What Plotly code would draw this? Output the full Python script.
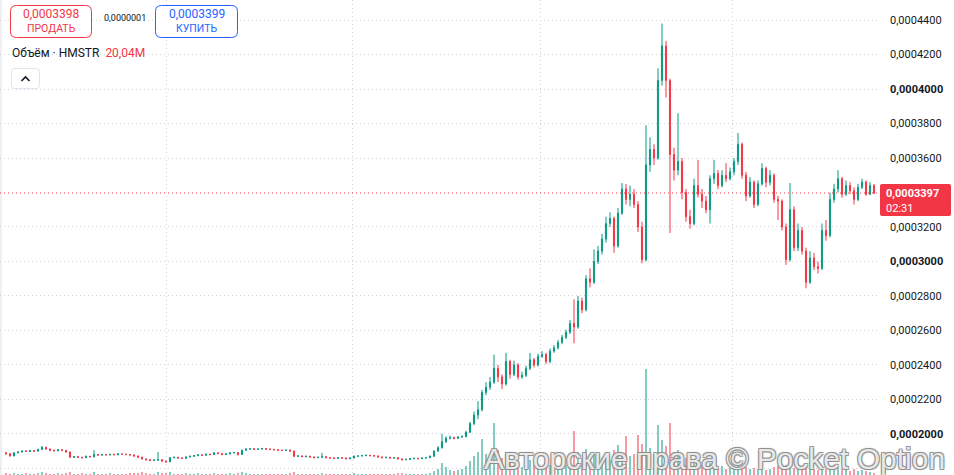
import plotly.graph_objects as go

# ---------------- data (prices in units of 1e-7) ----------------
UNIT = 1e-7
first_open = 1890

closes = [
    1885, 1872, 1890, 1895, 1900, 1898, 1903, 1900, 1910, 1922,
    1912, 1905, 1902, 1908, 1904, 1895, 1865, 1868, 1864, 1862,
    1870, 1867, 1880, 1877, 1880, 1878, 1881, 1879, 1884, 1882,
    1880, 1878, 1872, 1865, 1855, 1850, 1846, 1848, 1850, 1842,
    1838, 1862, 1864, 1860, 1858, 1866, 1870, 1874, 1878, 1876,
    1882, 1880, 1890, 1886, 1880, 1884, 1890, 1892, 1880, 1905,
    1912, 1914, 1910, 1912, 1915, 1912, 1910, 1908, 1905, 1904,
    1906, 1900, 1870, 1872, 1868, 1870, 1866, 1862, 1864, 1868,
    1862, 1860, 1858, 1862, 1860, 1856, 1860, 1870, 1872, 1874,
    1876, 1874, 1872, 1866, 1862, 1864, 1860, 1862, 1855, 1850,
    1852, 1856, 1858, 1856, 1860, 1862, 1870, 1900, 1920, 1955,
    1975, 1978, 1975, 1982, 1985, 2010, 2060, 2110, 2140, 2240,
    2270, 2300, 2380, 2330, 2290, 2420, 2345, 2400, 2330, 2340,
    2380, 2430, 2400, 2450, 2460, 2420, 2480, 2500, 2530, 2560,
    2590, 2640, 2620, 2770, 2720, 2900, 2880, 3000, 3060, 3130,
    3220, 3250, 3090, 3280, 3420, 3360, 3390, 3330, 3200, 3010,
    3560, 3650, 3600, 4050, 4250, 4050, 3620, 3530, 3580, 3400,
    3260, 3220, 3440, 3390, 3350, 3300, 3480, 3510, 3440, 3500,
    3480, 3520, 3580, 3680, 3500, 3380, 3460, 3330, 3450, 3540,
    3460, 3500, 3360, 3350, 3200, 3010, 3300, 3080, 3180, 3060,
    2880, 3020, 2970, 2960, 3180, 3150, 3360, 3420, 3480, 3390,
    3440, 3410, 3360, 3430, 3460, 3390, 3440, 3397,
]

highs = [
    1895, 1888, 1893, 1899, 1904, 1905, 1907, 1906, 1914, 1930,
    1925, 1915, 1908, 1912, 1911, 1907, 1897, 1872, 1870, 1867,
    1874, 1872, 1905, 1884, 1884, 1883, 1885, 1884, 1888, 1887,
    1885, 1883, 1880, 1874, 1867, 1858, 1853, 1852, 1895, 1852,
    1845, 1866, 1868, 1867, 1864, 1870, 1874, 1877, 1882, 1881,
    1886, 1885, 1894, 1893, 1889, 1888, 1893, 1896, 1894, 1909,
    1916, 1918, 1917, 1916, 1919, 1918, 1915, 1913, 1910, 1908,
    1910, 1909, 1903, 1876, 1875, 1874, 1873, 1869, 1868, 1890,
    1871, 1865, 1863, 1866, 1865, 1863, 1864, 1874, 1876, 1878,
    1880, 1879, 1877, 1875, 1869, 1868, 1867, 1866, 1865, 1858,
    1856, 1860, 1862, 1861, 1864, 1866, 1875, 1905, 1928, 2000,
    1985, 1990, 1984, 1988, 1992, 2018, 2070, 2130, 2190, 2255,
    2300, 2330, 2460, 2400, 2345, 2470, 2430, 2425, 2410, 2360,
    2395, 2470, 2440, 2465, 2480, 2470, 2495, 2515, 2545, 2575,
    2605, 2660, 2780, 2800, 2790, 2920, 2960, 3070, 3090, 3160,
    3260, 3285, 3260, 3310, 3455, 3450, 3440, 3420, 3350, 3230,
    3790, 3720, 3680, 4120, 4380, 4280, 4060, 3660, 3860, 3600,
    3420, 3300, 3480, 3590, 3420, 3380, 3500, 3590, 3530, 3530,
    3570, 3545, 3600, 3745, 3690, 3520, 3490, 3470, 3470, 3570,
    3550, 3530, 3510, 3380, 3360, 3220, 3455, 3320, 3220, 3200,
    3080, 3060, 3050, 3000, 3220, 3240, 3400, 3450, 3530, 3490,
    3470, 3460, 3430, 3450, 3480, 3470, 3460, 3450,
]

lows = [
    1880, 1868, 1870, 1887, 1892, 1894, 1895, 1896, 1898, 1908,
    1908, 1900, 1898, 1899, 1900, 1890, 1860, 1861, 1860, 1857,
    1859, 1863, 1864, 1873, 1874, 1875, 1875, 1876, 1876, 1878,
    1877, 1874, 1868, 1861, 1851, 1846, 1842, 1843, 1845, 1838,
    1833, 1836, 1858, 1856, 1854, 1855, 1863, 1867, 1871, 1872,
    1873, 1876, 1877, 1882, 1876, 1877, 1881, 1886, 1875, 1878,
    1902, 1909, 1906, 1907, 1909, 1908, 1906, 1904, 1901, 1900,
    1901, 1896, 1865, 1866, 1864, 1865, 1862, 1858, 1859, 1861,
    1858, 1856, 1854, 1855, 1856, 1852, 1853, 1857, 1867, 1869,
    1871, 1870, 1868, 1862, 1858, 1859, 1856, 1857, 1851, 1846,
    1847, 1849, 1853, 1852, 1853, 1857, 1859, 1868, 1896, 1915,
    1948, 1968, 1968, 1970, 1977, 1980, 2005, 2050, 2085, 2130,
    2225, 2255, 2290, 2300, 2260, 2280, 2320, 2335, 2315, 2320,
    2330, 2370, 2385, 2390, 2440, 2405, 2410, 2470, 2490, 2520,
    2550, 2580, 2525, 2610, 2700, 2710, 2850, 2870, 2985, 3040,
    3110, 3200, 3050, 3080, 3270, 3330, 3320, 3310, 3170, 2990,
    3000, 3520, 3560, 3590, 4020, 3950, 3165, 3470, 3500, 3360,
    3230, 3190, 3210, 3370, 3310, 3280, 3220, 3450, 3420, 3430,
    3460, 3470, 3500, 3560, 3480, 3350, 3370, 3310, 3320, 3440,
    3430, 3440, 3340, 3240, 3180, 2980, 3000, 3060, 3060, 3040,
    2845, 2870, 2950, 2930, 2950, 3120, 3140, 3340, 3400, 3370,
    3380, 3390, 3330, 3350, 3420, 3380, 3385, 3390,
]

volumes = [
    2, 1, 2, 1, 1, 2, 1, 1, 2, 3,
    2, 1, 1, 2, 1, 2, 3, 1, 1, 2,
    1, 1, 3, 1, 1, 1, 2, 1, 1, 1,
    1, 2, 2, 2, 3, 2, 1, 1, 3, 2,
    2, 3, 1, 1, 1, 2, 1, 1, 2, 1,
    1, 1, 2, 1, 1, 1, 2, 1, 2, 3,
    2, 1, 1, 1, 1, 1, 1, 1, 1, 1,
    1, 2, 3, 1, 1, 1, 1, 1, 1, 2,
    1, 1, 1, 1, 1, 1, 1, 2, 1, 1,
    1, 1, 1, 1, 1, 1, 1, 1, 2, 2,
    1, 1, 1, 1, 1, 1, 2, 4, 6, 12,
    8, 5, 4, 5, 6, 9, 14, 18, 22, 35,
    20, 18, 50, 24, 16, 22, 14, 10, 12, 8,
    9, 15, 10, 11, 8, 9, 10, 8, 9, 12,
    10, 14, 43, 22, 16, 25, 18, 20, 14, 16,
    20, 15, 24, 29, 22, 38, 18, 20, 39, 30,
    103, 26, 20, 48, 34, 28, 50, 22, 24, 18,
    16, 14, 15, 12, 10, 9, 12, 8, 7, 9,
    6, 7, 8, 10, 9, 8, 6, 7, 6, 7,
    5, 6, 8, 9, 8, 10, 9, 7, 6, 8,
    9, 7, 6, 5, 8, 6, 9, 10, 7, 6,
    5, 4, 6, 4, 5, 4, 3, 2,
]

price_tick_values = [1800, 2000, 2200, 2400, 2600, 2800, 3000, 3200, 3600, 3800, 4000, 4200, 4400]
price_tick_labels = [
    "0,0001800", "<b>0,0002000</b>", "0,0002200", "0,0002400", "0,0002600", "0,0002800",
    "<b>0,0003000</b>", "0,0003200", "0,0003600", "0,0003800", "<b>0,0004000</b>",
    "0,0004200", "0,0004400",
]
time_grid_positions = [40, 86.5, 133.5, 181.5]

last_price = 3397
last_price_label = "0,0003397"
countdown_label = "02:31"
sell_price_label = "0,0003398"
buy_price_label = "0,0003399"
spread_label = "0,0000001"
volume_title = "Объём · HMSTR"
volume_value_label = "20,04M"
watermark_text = "Авторские права © Pocket Option"

# ---------------- derived ----------------
n = len(closes)
idx = list(range(n))
opens = [first_open] + closes[:-1]

UP = "#089981"
DOWN = "#f23645"
vol_colors = ["rgba(8,153,129,0.5)" if c >= o else "rgba(242,54,69,0.5)" for o, c in zip(opens, closes)]

W, H = 954, 475
PLOT_W = 880
GRID = "#d1d4dc"


def px(x):
    return x / PLOT_W


def py(y):
    return 1 - y / H


def rrect(x0, y0, x1, y1, r):
    pts = [
        ("M", [(x0 + r, y0)]), ("L", [(x1 - r, y0)]), ("Q", [(x1, y0), (x1, y0 + r)]),
        ("L", [(x1, y1 - r)]), ("Q", [(x1, y1), (x1 - r, y1)]), ("L", [(x0 + r, y1)]),
        ("Q", [(x0, y1), (x0, y1 - r)]), ("L", [(x0, y0 + r)]), ("Q", [(x0, y0), (x0 + r, y0)]),
    ]
    s = ""
    for cmd, ps in pts:
        s += cmd + " " + " ".join(f"{px(a):.5f},{py(b):.5f}" for a, b in ps) + " "
    return s + "Z"


fig = go.Figure()

fig.add_trace(go.Bar(
    x=idx, y=volumes, marker=dict(color=vol_colors, line=dict(width=0)),
    width=0.35, yaxis="y2", hoverinfo="skip", showlegend=False,
))

fig.add_trace(go.Candlestick(
    x=idx,
    open=[v * UNIT for v in opens],
    high=[v * UNIT for v in highs],
    low=[v * UNIT for v in lows],
    close=[v * UNIT for v in closes],
    increasing=dict(line=dict(color=UP, width=1), fillcolor=UP),
    decreasing=dict(line=dict(color=DOWN, width=1), fillcolor=DOWN),
    whiskerwidth=0,
    hoverinfo="skip", showlegend=False,
))

shapes = []
# last price dotted line
shapes.append(dict(type="line", xref="paper", yref="y", x0=0, x1=1,
                   y0=last_price * UNIT, y1=last_price * UNIT,
                   line=dict(color=DOWN, width=1, dash="1px,3px")))
# price label box
shapes.append(dict(type="path", xref="paper", yref="paper",
                   path=rrect(880, 184, 951, 216, 2),
                   fillcolor=DOWN, line=dict(width=0)))
# sell / buy buttons
shapes.append(dict(type="path", xref="paper", yref="paper",
                   path=rrect(10.5, 5.5, 91.5, 37.5, 6),
                   fillcolor="white", line=dict(color="#f23645", width=1)))
shapes.append(dict(type="path", xref="paper", yref="paper",
                   path=rrect(155.5, 5.5, 237.5, 37.5, 6),
                   fillcolor="white", line=dict(color="#2962ff", width=1)))
# collapse button
shapes.append(dict(type="path", xref="paper", yref="paper",
                   path=rrect(11.5, 68.5, 39.5, 88.5, 3),
                   fillcolor="white", line=dict(color="#e0e3eb", width=1)))
shapes.append(dict(type="path", xref="paper", yref="paper",
                   path=f"M {px(21.5):.5f},{py(81):.5f} L {px(25.5):.5f},{py(77):.5f} L {px(29.5):.5f},{py(81):.5f}",
                   line=dict(color="#131722", width=1.6)))
# left edge strip
shapes.append(dict(type="rect", xref="paper", yref="paper", x0=0, x1=px(2), y0=0, y1=1,
                   fillcolor="#eef0f4", line=dict(width=0), layer="below"))

ann = []
ann.append(dict(x=px(51), y=py(14), xref="paper", yref="paper", text=sell_price_label,
                showarrow=False, font=dict(family="Roboto", size=12, color="#f23645"),
                xanchor="center", yanchor="middle"))
ann.append(dict(x=px(51), y=py(28), xref="paper", yref="paper", text="ПРОДАТЬ",
                showarrow=False, font=dict(family="Roboto", size=10.5, color="#f23645"),
                xanchor="center", yanchor="middle"))
ann.append(dict(x=px(125), y=py(18), xref="paper", yref="paper", text=spread_label,
                showarrow=False, font=dict(family="Roboto", size=9, color="#131722"),
                xanchor="center", yanchor="middle"))
ann.append(dict(x=px(196.5), y=py(14), xref="paper", yref="paper", text=buy_price_label,
                showarrow=False, font=dict(family="Roboto", size=12, color="#2962ff"),
                xanchor="center", yanchor="middle"))
ann.append(dict(x=px(196.5), y=py(28), xref="paper", yref="paper", text="КУПИТЬ",
                showarrow=False, font=dict(family="Roboto", size=10.5, color="#2962ff"),
                xanchor="center", yanchor="middle"))
ann.append(dict(x=px(10), y=py(53), xref="paper", yref="paper",
                text=volume_title + "  <span style='color:#f23645'>" + volume_value_label + "</span>",
                showarrow=False, font=dict(family="Roboto", size=12, color="#131722"),
                xanchor="left", yanchor="middle"))
ann.append(dict(x=px(884), y=py(193), xref="paper", yref="paper", text="<b>" + last_price_label + "</b>",
                showarrow=False, font=dict(family="Roboto", size=11, color="white"),
                xanchor="left", yanchor="middle"))
ann.append(dict(x=px(884), y=py(208), xref="paper", yref="paper", text=countdown_label,
                showarrow=False, font=dict(family="Roboto", size=11, color="white"),
                xanchor="left", yanchor="middle"))
ann.append(dict(x=px(714), y=py(458), xref="paper", yref="paper", text=watermark_text,
                showarrow=False,
                font=dict(family="Liberation Sans", size=30, color="rgba(250,250,250,0.85)",
                          shadow="-1px -1px 0 #8c8c8c, 1px -1px 0 #8c8c8c, -1px 1px 0 #8c8c8c, 1px 1px 0 #8c8c8c, 0 0 3px #b0b0b0"),
                xanchor="center", yanchor="middle"))

fig.update_layout(
    width=W, height=H,
    margin=dict(l=0, r=W - PLOT_W, t=0, b=0),
    paper_bgcolor="white", plot_bgcolor="white",
    separators=",.",
    bargap=0,
    boxgap=0.6,
    showlegend=False,
    hovermode=False,
    xaxis=dict(range=[-1.5, n + 0.5], rangeslider=dict(visible=False),
               showticklabels=False, ticks="", tickmode="array", tickvals=time_grid_positions,
               showgrid=True, gridcolor=GRID, griddash="1px,3px", gridwidth=1,
               zeroline=False, showline=False, fixedrange=True),
    yaxis=dict(range=[1761.5 * UNIT, 4516.5 * UNIT], side="right",
               tickmode="array", tickvals=[v * UNIT for v in price_tick_values],
               ticktext=price_tick_labels,
               tickfont=dict(family="Roboto", size=11, color="#131722"),
               ticks="", ticklabelstandoff=9,
               showgrid=True, gridcolor=GRID, griddash="1px,3px", gridwidth=1,
               zeroline=False, showline=False, fixedrange=True),
    yaxis2=dict(range=[0, 460], overlaying="y", side="left", visible=False,
                showgrid=False, fixedrange=True),
    shapes=shapes,
    annotations=ann,
)

fig.write_html("out.html")
